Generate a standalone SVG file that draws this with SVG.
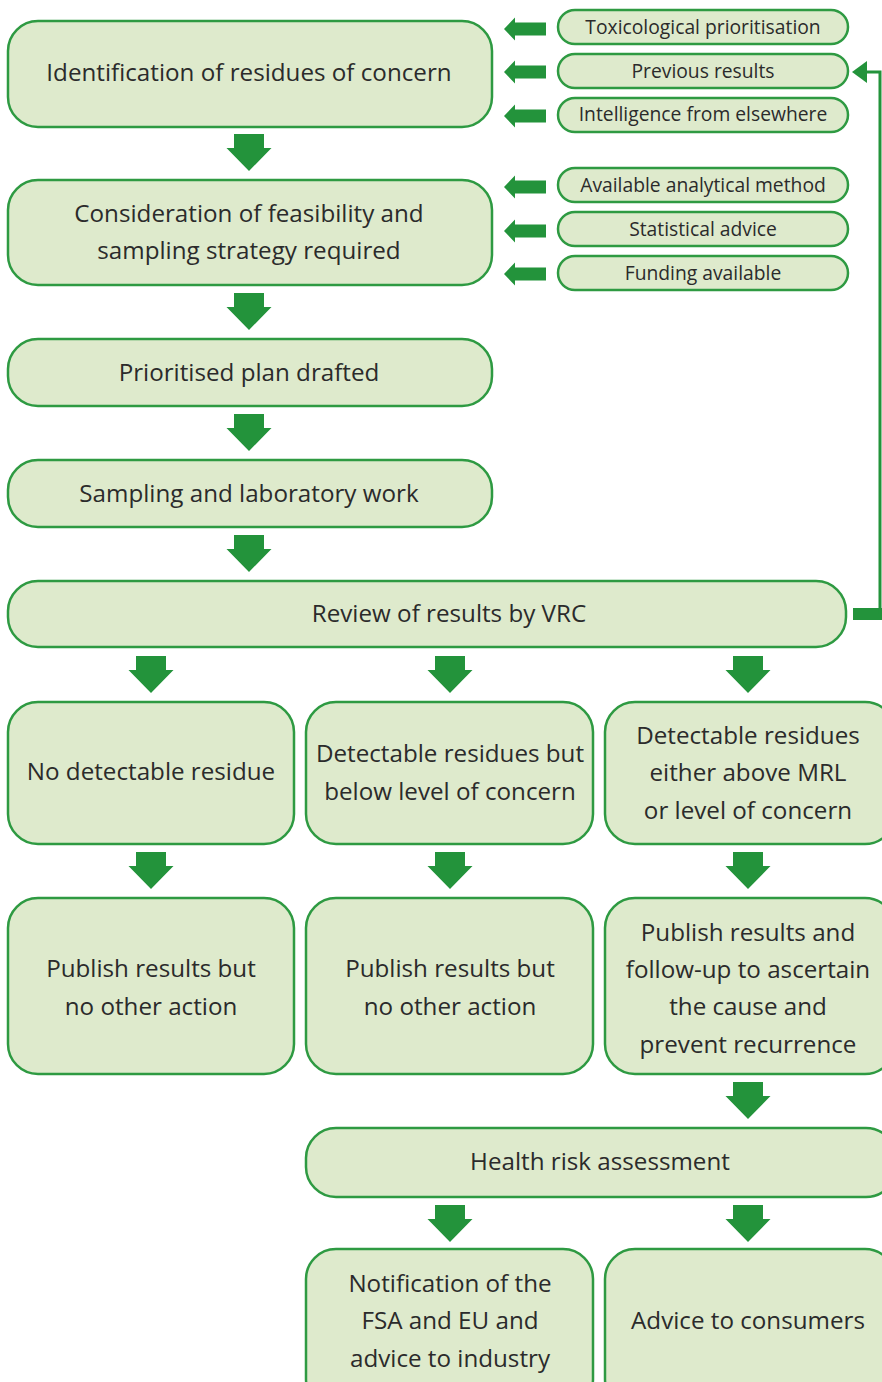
<svg xmlns="http://www.w3.org/2000/svg" width="882" height="1382" viewBox="0 0 882 1382">
<defs>
<style>
.box{fill:#deeacc;stroke:#2e9a42;stroke-width:2.5}
.t{font-family:"Open Sans","Noto Sans",sans-serif;font-size:24.2px;fill:#2b2b2b;text-anchor:middle;dominant-baseline:central}
.s{font-family:"Open Sans","Noto Sans",sans-serif;font-size:19.3px;fill:#2b2b2b;text-anchor:middle;dominant-baseline:central}
.ar{fill:#23933b}
</style>
<path id="down" d="M-15,0 H15 V14 H22.5 L0,37 L-22.5,14 H-15 Z"/>
<path id="left" d="M42,-6.5 H11 V-11.5 L0,0 L11,11.5 V6.5 H42 Z"/>
</defs>
<g id="connectors" class="ar">
<use href="#down" x="249" y="134"/>
<use href="#down" x="249" y="293"/>
<use href="#down" x="249" y="414"/>
<use href="#down" x="249" y="535"/>
<use href="#down" x="151" y="656"/>
<use href="#down" x="450" y="656"/>
<use href="#down" x="748" y="656"/>
<use href="#down" x="151" y="852"/>
<use href="#down" x="450" y="852"/>
<use href="#down" x="748" y="852"/>
<use href="#down" x="748" y="1082"/>
<use href="#down" x="450" y="1205"/>
<use href="#down" x="748" y="1205"/>
<use href="#left" x="504" y="29"/>
<use href="#left" x="504" y="72"/>
<use href="#left" x="504" y="116"/>
<use href="#left" x="504" y="187"/>
<use href="#left" x="504" y="231"/>
<use href="#left" x="504" y="274"/>
<rect x="853" y="608" width="29" height="12"/>
<path d="M880,614 V72 H864" fill="none" stroke="#23933b" stroke-width="3"/>
<path d="M852,72 L867,61 V83 Z"/>
</g>
<g id="n1"><rect class="box" x="8" y="21" width="484" height="106" rx="30"/><text class="t" x="249" y="71">Identification of residues of concern</text></g>
<g id="n2"><rect class="box" x="8" y="180" width="484" height="105" rx="30"/><text class="t" x="249" y="212">Consideration of feasibility and</text><text class="t" x="249" y="249">sampling strategy required</text></g>
<g id="n3"><rect class="box" x="8" y="339" width="484" height="67" rx="30"/><text class="t" x="249" y="371">Prioritised plan drafted</text></g>
<g id="n4"><rect class="box" x="8" y="460" width="484" height="67" rx="30"/><text class="t" x="249" y="492">Sampling and laboratory work</text></g>
<g id="n5"><rect class="box" x="8" y="581" width="838" height="66" rx="30"/><text class="t" x="449" y="612">Review of results by VRC</text></g>
<g id="s1"><rect class="box" x="558" y="10" width="290" height="34" rx="17"/><text class="s" x="703" y="26">Toxicological prioritisation</text></g>
<g id="s2"><rect class="box" x="558" y="54" width="290" height="34" rx="17"/><text class="s" x="703" y="70">Previous results</text></g>
<g id="s3"><rect class="box" x="558" y="98" width="290" height="34" rx="17"/><text class="s" x="703" y="113">Intelligence from elsewhere</text></g>
<g id="s4"><rect class="box" x="558" y="168" width="290" height="34" rx="17"/><text class="s" x="703" y="184">Available analytical method</text></g>
<g id="s5"><rect class="box" x="558" y="212" width="290" height="34" rx="17"/><text class="s" x="703" y="228">Statistical advice</text></g>
<g id="s6"><rect class="box" x="558" y="256" width="290" height="34" rx="17"/><text class="s" x="703" y="272">Funding available</text></g>
<g id="c1"><rect class="box" x="8" y="702" width="286" height="142" rx="30"/><text class="t" x="151" y="770">No detectable residue</text></g>
<g id="c2"><rect class="box" x="306" y="702" width="287" height="142" rx="30"/><text class="t" x="450" y="752">Detectable residues but</text><text class="t" x="450" y="790">below level of concern</text></g>
<g id="c3"><rect class="box" x="605" y="702" width="290" height="142" rx="30"/><text class="t" x="748" y="734">Detectable residues</text><text class="t" x="748" y="771">either above MRL</text><text class="t" x="748" y="809">or level of concern</text></g>
<g id="p1"><rect class="box" x="8" y="898" width="286" height="176" rx="30"/><text class="t" x="151" y="967">Publish results but</text><text class="t" x="151" y="1005">no other action</text></g>
<g id="p2"><rect class="box" x="306" y="898" width="287" height="176" rx="30"/><text class="t" x="450" y="967">Publish results but</text><text class="t" x="450" y="1005">no other action</text></g>
<g id="p3"><rect class="box" x="605" y="898" width="290" height="176" rx="30"/><text class="t" x="748" y="931">Publish results and</text><text class="t" x="748" y="968">follow-up to ascertain</text><text class="t" x="748" y="1005">the cause and</text><text class="t" x="748" y="1043">prevent recurrence</text></g>
<g id="h"><rect class="box" x="306" y="1128" width="590" height="69" rx="30"/><text class="t" x="600" y="1160">Health risk assessment</text></g>
<g id="b1"><rect class="box" x="306" y="1249" width="287" height="160" rx="30"/><text class="t" x="450" y="1282">Notification of the</text><text class="t" x="450" y="1319">FSA and EU and</text><text class="t" x="450" y="1357">advice to industry</text></g>
<g id="b2"><rect class="box" x="605" y="1249" width="290" height="160" rx="30"/><text class="t" x="748" y="1319">Advice to consumers</text></g>
</svg>
